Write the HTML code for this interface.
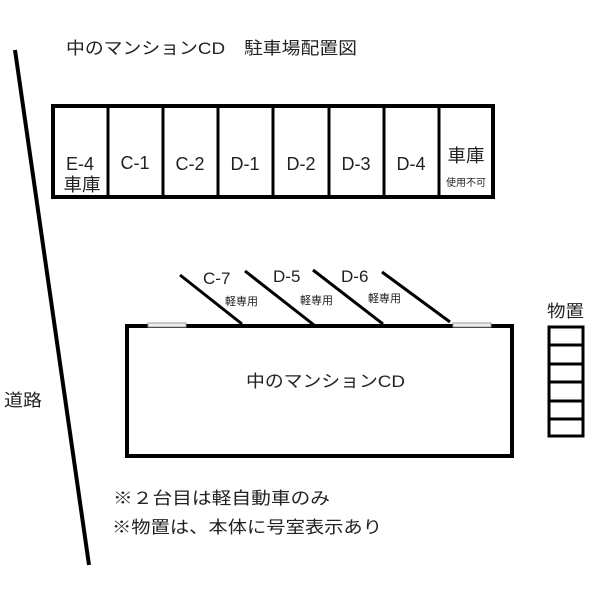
<!DOCTYPE html>
<html><head><meta charset="utf-8"><style>
body{margin:0;background:#fff;}
svg text{font-family:"Liberation Sans","Noto Sans CJK JP",sans-serif;fill:#222;}
</style></head><body>
<svg width="600" height="600" viewBox="0 0 600 600" xmlns="http://www.w3.org/2000/svg">
<rect width="600" height="600" fill="#fff"/>
<text x="66" y="54" font-size="17" textLength="291" lengthAdjust="spacingAndGlyphs">中のマンションCD　駐車場配置図</text>
<line x1="15" y1="50" x2="89" y2="565" stroke="#000" stroke-width="4"/>
<text x="4" y="406" font-size="17" textLength="38" lengthAdjust="spacingAndGlyphs">道路</text>
<rect x="53" y="106" width="440" height="91" fill="none" stroke="#000" stroke-width="4"/>
<g stroke="#000" stroke-width="3">
<line x1="108" y1="106" x2="108" y2="197"/>
<line x1="163" y1="106" x2="163" y2="197"/>
<line x1="218" y1="106" x2="218" y2="197"/>
<line x1="273" y1="106" x2="273" y2="197"/>
<line x1="329" y1="106" x2="329" y2="197"/>
<line x1="384" y1="106" x2="384" y2="197"/>
<line x1="439" y1="106" x2="439" y2="197"/>
</g>
<g font-size="18" text-anchor="middle">
<text x="80" y="170">E-4</text>
<text x="82" y="191" textLength="37" lengthAdjust="spacingAndGlyphs">車庫</text>
<text x="135" y="169">C-1</text>
<text x="190" y="170">C-2</text>
<text x="245" y="170">D-1</text>
<text x="301" y="170">D-2</text>
<text x="356" y="170">D-3</text>
<text x="411" y="170">D-4</text>
<text x="466" y="162" textLength="37" lengthAdjust="spacingAndGlyphs">車庫</text>
<text x="466" y="186" font-size="10">使用不可</text>
</g>
<g stroke="#000" stroke-width="3">
<line x1="180" y1="275" x2="242" y2="324"/>
<line x1="245" y1="271" x2="314" y2="325"/>
<line x1="313" y1="270" x2="383" y2="324"/>
<line x1="382" y1="272" x2="450" y2="322"/>
</g>
<g font-size="17">
<text x="203" y="284">C-7</text>
<text x="273" y="282">D-5</text>
<text x="341" y="282">D-6</text>
</g>
<g font-size="11">
<text x="225" y="305">軽専用</text>
<text x="300" y="304">軽専用</text>
<text x="368" y="302">軽専用</text>
</g>
<rect x="127" y="326" width="385" height="130" fill="none" stroke="#000" stroke-width="4"/>
<rect x="148" y="323" width="38" height="4" fill="#eee" stroke="#999" stroke-width="1"/>
<rect x="453" y="323" width="38" height="4" fill="#eee" stroke="#999" stroke-width="1"/>
<text x="246" y="387" font-size="17" textLength="159" lengthAdjust="spacingAndGlyphs">中のマンションCD</text>
<text x="547" y="317" font-size="17" textLength="37" lengthAdjust="spacingAndGlyphs">物置</text>
<rect x="549" y="327" width="34" height="109" fill="none" stroke="#000" stroke-width="3"/>
<g stroke="#000" stroke-width="3">
<line x1="549" y1="345" x2="583" y2="345"/>
<line x1="549" y1="364" x2="583" y2="364"/>
<line x1="549" y1="382" x2="583" y2="382"/>
<line x1="549" y1="401" x2="583" y2="401"/>
<line x1="549" y1="419" x2="583" y2="419"/>
</g>
<g font-size="17">
<text x="113" y="504" textLength="217" lengthAdjust="spacingAndGlyphs">※２台目は軽自動車のみ</text>
<text x="112" y="533" textLength="270" lengthAdjust="spacingAndGlyphs">※物置は、本体に号室表示あり</text>
</g>
</svg>
</body></html>
